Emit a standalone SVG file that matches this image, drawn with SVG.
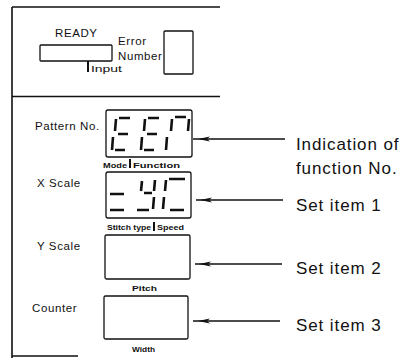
<svg xmlns="http://www.w3.org/2000/svg" width="403" height="364" viewBox="0 0 403 364">
<defs>
<style>
.frame{stroke:#111;stroke-width:1.6;fill:none}
.box{stroke:#111;stroke-width:1.3;fill:#fff}
.seg{stroke:#111;stroke-width:2.6;stroke-linecap:butt;fill:none}
.tick{stroke:#111;stroke-width:2;fill:none}
.conn{stroke:#111;stroke-width:1.4;fill:none}
.lbl{font-family:"Liberation Sans",Arial,sans-serif;font-size:11.5px;fill:#111;letter-spacing:0.6px}
.sm{font-family:"Liberation Sans",Arial,sans-serif;font-size:8px;font-weight:bold;fill:#111}
.big{font-family:"Liberation Sans",Arial,sans-serif;font-size:17px;fill:#111;letter-spacing:0.9px}
</style>
<marker id="ah" viewBox="0 0 12 6" refX="1" refY="3" markerWidth="12" markerHeight="6" markerUnits="userSpaceOnUse" orient="auto">
<path d="M0,3 L12,0.4 L9,3 L12,5.6 Z" fill="#111"/>
</marker>
</defs>
<rect width="403" height="364" fill="#fff"/>

<g id="frame">
<path class="frame" d="M12,7 H220 M12,7 V358 M12,96.5 H220 M12,356 H78"/>
</g>

<g id="ready">
<text class="lbl" x="55" y="37">READY</text>
<rect class="box" x="40" y="45" width="72" height="16" rx="1"/>
<path class="tick" d="M88,61 V72"/>
<text class="lbl" x="91" y="72" style="font-size:9.5px;letter-spacing:0" textLength="31" lengthAdjust="spacingAndGlyphs">Input</text>
</g>

<g id="error">
<text class="lbl" x="118" y="45">Error</text>
<text class="lbl" x="118" y="60">Number</text>
<rect class="box" x="164" y="31" width="29" height="43" rx="1"/>
</g>

<g id="pattern">
<text class="lbl" x="35" y="130">Pattern No.</text>
<rect class="box" x="106" y="110" width="86" height="47" rx="2"/>
<path class="seg" d="M119,118 H130 M116,119 L115,131 M118,134 H128 M113,137 L112,150 M115,150 H125"/>
<path class="seg" d="M148,118 H159 M145,119 L144,131 M147,134 H157 M142,137 L141,150 M144,150 H154"/>
<path class="seg" d="M175,117 H186 M172,119 L171,131 M189,119 L188,131 M167,137 L166,150"/>
<text class="sm" x="103" y="168" textLength="24" lengthAdjust="spacingAndGlyphs">Mode</text>
<path class="tick" d="M130,159 V168"/>
<text class="sm" x="133" y="168" textLength="47" lengthAdjust="spacingAndGlyphs">Function</text>
</g>

<g id="xscale">
<text class="lbl" x="37" y="187">X Scale</text>
<rect class="box" x="106" y="172" width="85" height="46" rx="2"/>
<path class="seg" d="M110,194 H124 M110,210 H124"/>
<path class="seg" d="M142,181 L141,191 M144,193 H152 M155,180 L154,191 M154,197 L153,209 M137,210 H149"/>
<path class="seg" d="M166,180 L165,191 M169,179 H185 M164,197 L163,209 M170,210 H184"/>
<text class="sm" x="107" y="230" textLength="44" lengthAdjust="spacingAndGlyphs">Stitch type</text>
<path class="tick" d="M154,222 V231"/>
<text class="sm" x="157" y="230" textLength="27" lengthAdjust="spacingAndGlyphs">Speed</text>
</g>

<g id="yscale">
<text class="lbl" x="37" y="250">Y Scale</text>
<rect class="box" x="105" y="235" width="85" height="44" rx="1.5"/>
<text class="sm" x="132" y="291" textLength="25" lengthAdjust="spacingAndGlyphs">Pitch</text>
</g>

<g id="counter">
<text class="lbl" x="32" y="312">Counter</text>
<rect class="box" x="104" y="296" width="84" height="43" rx="1.5"/>
<text class="sm" x="132" y="352" textLength="23" lengthAdjust="spacingAndGlyphs">Width</text>
</g>

<g id="connectors">
<path class="conn" marker-start="url(#ah)" d="M199,139 H285"/>
<path class="conn" marker-start="url(#ah)" d="M201,200 H283"/>
<path class="conn" marker-start="url(#ah)" d="M200,264 H282"/>
<path class="conn" marker-start="url(#ah)" d="M199,321 H280"/>
<path class="conn" d="M193,139 H199 M196,200 H201 M195,264 H200 M193,321 H199"/>
</g>

<g id="labels">
<text class="big" x="296" y="150">Indication of</text>
<text class="big" x="296" y="174">function No.</text>
<text class="big" x="296" y="211">Set item 1</text>
<text class="big" x="296" y="274">Set item 2</text>
<text class="big" x="296" y="331">Set item 3</text>
</g>
</svg>
